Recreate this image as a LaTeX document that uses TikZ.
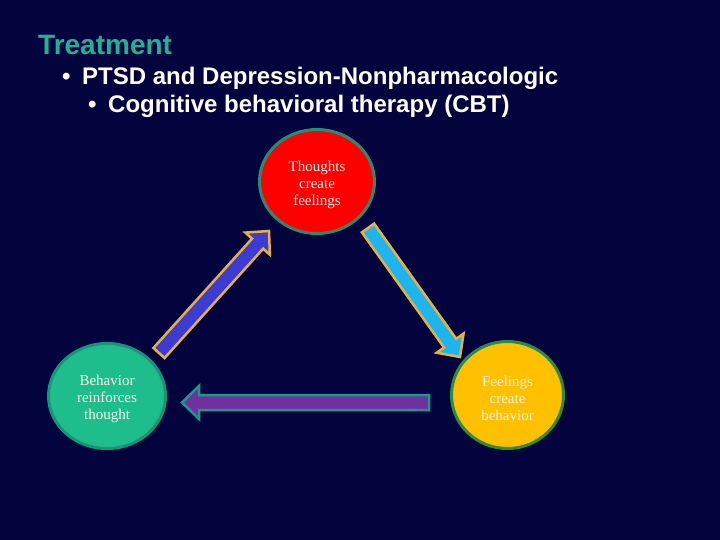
\documentclass[tikz,border=0pt]{standalone}
\usepackage{fontspec}
\setmainfont{Liberation Serif}
\newfontfamily\headfont{Liberation Sans}
\usetikzlibrary{shapes.geometric,calc}
\definecolor{bgnavy}{RGB}{3,3,62}
\definecolor{headteal}{RGB}{32,178,150}
\definecolor{redfill}{RGB}{255,0,0}
\definecolor{redring}{RGB}{40,140,110}
\definecolor{greenfill}{RGB}{30,190,140}
\definecolor{greenring}{RGB}{22,150,120}
\definecolor{yellowfill}{RGB}{255,192,0}
\definecolor{yellowring}{RGB}{40,140,70}
\definecolor{bluefill}{RGB}{60,60,210}
\definecolor{cyanfill}{RGB}{30,180,238}
\definecolor{purplefill}{RGB}{112,48,160}
\definecolor{goldring}{RGB}{232,176,64}
\definecolor{tealring}{RGB}{26,154,140}
\definecolor{circtext}{RGB}{248,244,232}
\tikzset{
  headline/.style={anchor=base west, inner sep=0pt, text=white, font=\headfont\bfseries\fontsize{24}{28}\selectfont},
  bubble/.style={ellipse, line width=3pt, inner sep=0pt},
  bubbletext/.style={align=center, inner sep=0pt, text=circtext, font=\fontsize{15}{17}\selectfont, yshift=-3pt},
  fatarrowstyle/.style={line width=2.5pt, line join=miter},
}
\newcommand{\fatarrow}[5]{%
  \coordinate (#1h) at ($(#3)!17pt!(#2)$);
  \filldraw[fatarrowstyle, fill=#4, draw=#5]
   ($(#2)!7.5pt!90:(#3)$) -- ($(#1h)!7.5pt!-90:(#2)$) -- ($(#1h)!16.5pt!-90:(#2)$) -- (#3)
   -- ($(#1h)!16.5pt!90:(#2)$) -- ($(#1h)!7.5pt!90:(#2)$) -- ($(#2)!7.5pt!-90:(#3)$) -- cycle;
}
\begin{document}
\begin{tikzpicture}[x=1pt,y=-1pt]
\useasboundingbox (0,0) rectangle (720,540);
\fill[bgnavy] (0,0) rectangle (720,540);
% header
\node[anchor=base west, inner sep=0pt, text=headteal, font=\headfont\bfseries\fontsize{28}{30}\selectfont] (title) at (38,55) {Treatment};
\node[headline] (b1) at (62,85) {\textbullet};
\node[headline] (l1) at (82,85) {PTSD and Depression-Nonpharmacologic};
\node[headline] (b2) at (88,113) {\textbullet};
\node[headline] (l2) at (108,113) {Cognitive behavioral therapy (CBT)};
% bubbles
\node[bubble, fill=redfill, draw=redring, minimum width=115pt, minimum height=104pt] (thoughts) at (317,181.5) {};
\node[bubble, fill=greenfill, draw=greenring, minimum width=117pt, minimum height=105pt] (behavior) at (107,396) {};
\node[bubble, fill=yellowfill, draw=yellowring, minimum width=112pt, minimum height=107pt] (feelings) at (507.5,395) {};
\node[bubbletext] (thoughtsT) at (thoughts.center) {Thoughts\\create\\feelings};
\node[bubbletext] (behaviorT) at (behavior.center) {Behavior\\reinforces\\thought};
\node[bubbletext] (feelingsT) at (feelings.center) {Feelings\\create\\behavior};
% arrows
\coordinate (bT) at (159,353);
\coordinate (bH) at (269,231);
\coordinate (cT) at (368,228);
\coordinate (cH) at (460,357);
\coordinate (pT) at (429,402.5);
\coordinate (pH) at (182,402.5);
\fatarrow{ba}{bT}{bH}{bluefill}{goldring}
\fatarrow{ca}{cT}{cH}{cyanfill}{goldring}
\fatarrow{pa}{pT}{pH}{purplefill}{tealring}
\end{tikzpicture}
\end{document}
